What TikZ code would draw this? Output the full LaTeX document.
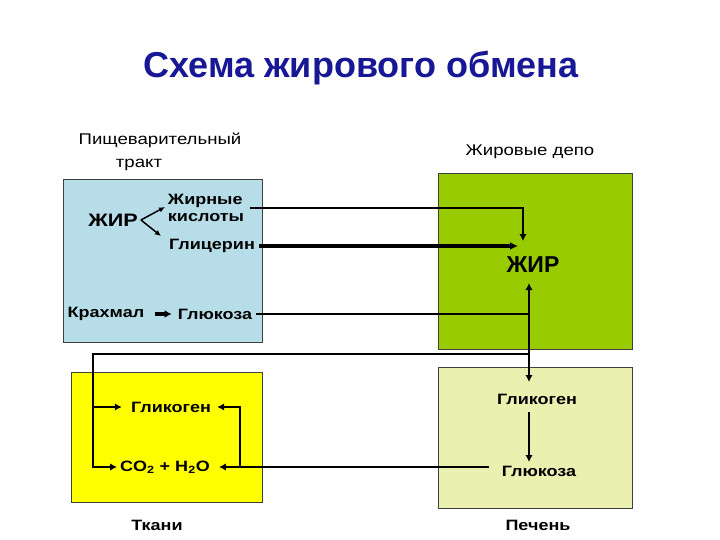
\documentclass[tikz,border=0pt]{standalone}
\usepackage{fontspec}
\setmainfont{Liberation Sans}
\newfontfamily\widefont{Liberation Sans}[FakeStretch=1.2]
\usetikzlibrary{arrows.meta}
\definecolor{titleblue}{RGB}{24,24,150}
\definecolor{tractblue}{RGB}{183,221,232}
\definecolor{depogreen}{RGB}{153,204,0}
\definecolor{livergreen}{RGB}{234,241,176}
\definecolor{tissueyellow}{RGB}{255,255,0}
\tikzset{
  box/.style={draw=black!75, line width=0.8pt},
  lbl/.style={font=\widefont\fontsize{15}{17}\selectfont\bfseries, inner sep=1pt},
  hdr/.style={font=\widefont\fontsize{15.5}{18}\selectfont, inner sep=1pt},
  big/.style={font=\fontsize{23}{26}\selectfont\bfseries, inner sep=1pt},
  conn/.style={line width=2.8pt},
  arr/.style={line width=2.8pt, -{Latex[length=7pt,width=7.5pt]}},
  thinarr/.style={line width=1.5pt, -{Latex[length=6pt,width=5.5pt]}},
}
\begin{document}
\begin{tikzpicture}[x=1pt,y=-1pt]
\useasboundingbox (0,0) rectangle (720,540);
% boxes
\fill[box, fill=tractblue] (63,179) rectangle (262,342);
\fill[box, fill=depogreen] (438,173) rectangle (632,349);
\fill[box, fill=livergreen] (438,367) rectangle (632,508);
\fill[box, fill=tissueyellow] (71,372) rectangle (262,502);
% title
\node[font=\fontsize{36}{40}\selectfont\bfseries, text=titleblue] (title) at (361,68) {Схема жирового обмена};
% headers
\node[hdr] (tract1) at (160,140) {Пищеварительный};
\node[hdr] (tract2) at (139,165) {тракт};
\node[hdr] (depo) at (530,152) {Жировые депо};
\node[lbl] (tkani) at (157,525) {Ткани};
\node[lbl] (pechen) at (538,525) {Печень};
% tract contents
\node[big, font=\widefont\fontsize{18}{20}\selectfont\bfseries] (zhirL) at (113,220) {ЖИР};
\node[lbl, align=left] (kisl) at (206,208) {Жирные\\кислоты};
\node[lbl] (glic) at (212,246) {Глицерин};
\node[lbl] (krah) at (106,314) {Крахмал};
\node[lbl] (glucL) at (215,314) {Глюкоза};
% depo
\node[big] (zhirR) at (533,265) {ЖИР};
% liver
\node[lbl] (glikR) at (537,399) {Гликоген};
\node[lbl] (glucR) at (539,471) {Глюкоза};
% tissue
\node[lbl] (glikL) at (171,407) {Гликоген};
\node[lbl] (co2) at (165,467) {CO\textsubscript{2} + H\textsubscript{2}O};
% coordinates
\coordinate (kislEnd) at (523,241);
\coordinate (glicEnd) at (518,246);
\coordinate (vTop) at (529,283);
\coordinate (vBot) at (529,382);
\coordinate (vGluc) at (529,314);
\coordinate (vLeft) at (529,354);
\coordinate (leftTurn) at (93,354);
\coordinate (leftGlik) at (93,407);
\coordinate (rightBranch) at (240,467);
\coordinate (rightTop) at (240,407);
\coordinate (glikRtop) at (529,412);
\coordinate (glucRtop) at (529,462);
% small arrows from ZhIR
\draw[thinarr] ([xshift=2pt]zhirL.east) -- (165,207);
\draw[thinarr] ([xshift=2pt]zhirL.east) -- (161,236);
\draw[line width=3.2pt, -{Latex[length=7pt,width=8pt]}] ([xshift=10pt]krah.east) -- ([xshift=-5pt]glucL.west);
% to depo
\draw[arr] ([xshift=5pt]kisl.east) -| (kislEnd);
\draw[line width=3.8pt, -{Latex[length=8pt,width=8pt]}] ([xshift=3pt]glic.east) -- (glicEnd);
\draw[conn] ([xshift=3pt]glucL.east) -- (vGluc);
\draw[line width=2.8pt, {Latex[length=7pt,width=7.5pt]}-{Latex[length=7pt,width=7.5pt]}] (vTop) -- (vBot);
\draw[arr] (vLeft) -- (leftTurn) |- ([xshift=-2pt]co2.west);
\draw[arr] (leftGlik) -- ([xshift=-8pt]glikL.west);
% liver
\draw[arr] (glikRtop) -- (glucRtop);
\draw[arr] ([xshift=-12pt]glucR.west |- rightBranch) -- ([xshift=8pt]co2.east |- rightBranch);
\draw[arr] (rightBranch) -- (rightTop) -- ([xshift=5pt]glikL.east);
\end{tikzpicture}
\end{document}
